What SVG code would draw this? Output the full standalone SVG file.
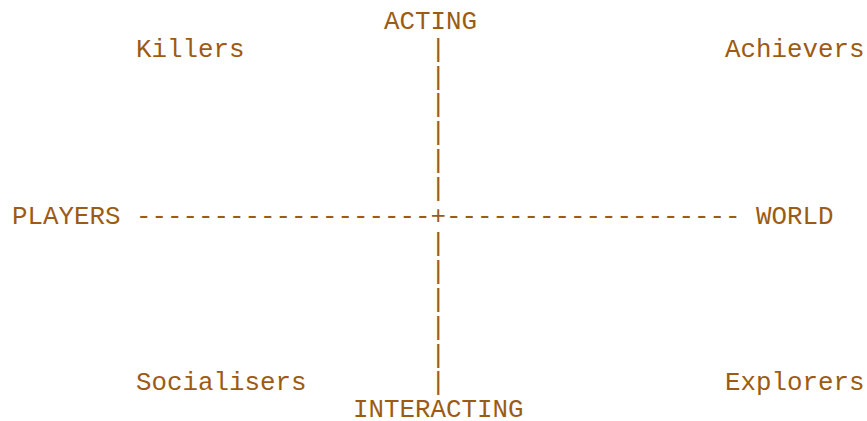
<svg xmlns="http://www.w3.org/2000/svg" width="867" height="421" viewBox="0 0 867 421">
<style>
text{font-family:"Liberation Mono","Courier New",monospace;font-size:25.83px;fill:#9C5B13;white-space:pre}
</style>
<rect width="867" height="421" fill="#fff"/>
<g id="connectors">
<text x="136" y="223.6">-------------------+-------------------</text>
<text x="430.5" y="56.8">|</text>
<text x="430.5" y="84.6">|</text>
<text x="430.5" y="112.4">|</text>
<text x="430.5" y="140.2">|</text>
<text x="430.5" y="168">|</text>
<text x="430.5" y="195.8">|</text>
<text x="430.5" y="251.4">|</text>
<text x="430.5" y="279.2">|</text>
<text x="430.5" y="307">|</text>
<text x="430.5" y="334.8">|</text>
<text x="430.5" y="362.6">|</text>
<text x="430.5" y="390.4">|</text>
</g>
<g id="acting"><text x="384" y="29">ACTING</text></g>
<g id="interacting"><text x="353" y="417">INTERACTING</text></g>
<g id="players"><text x="12" y="223.6">PLAYERS</text></g>
<g id="world"><text x="756" y="223.6">WORLD</text></g>
<g id="killers"><text x="136" y="56.8">Killers</text></g>
<g id="achievers"><text x="725" y="56.8">Achievers</text></g>
<g id="socialisers"><text x="136" y="390.4">Socialisers</text></g>
<g id="explorers"><text x="725" y="390.4">Explorers</text></g>
</svg>
